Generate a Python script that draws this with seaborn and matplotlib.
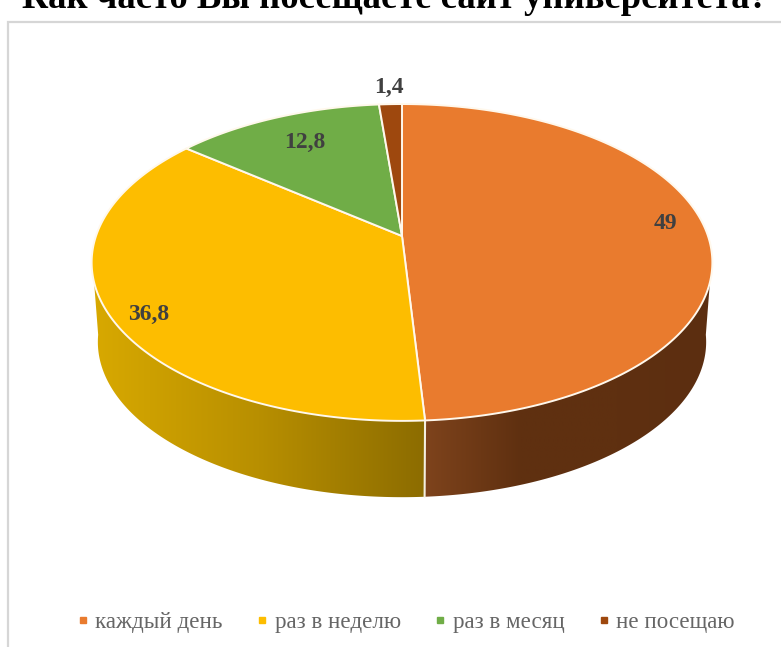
import numpy as np
import matplotlib
matplotlib.use("Agg")
import matplotlib.pyplot as plt
from matplotlib.colors import LinearSegmentedColormap
from matplotlib.lines import Line2D
from matplotlib.patches import Polygon, Rectangle
import seaborn as sns

title = "Как часто Вы посещаете сайт университета?"
categories = ["каждый день", "раз в неделю", "раз в месяц", "не посещаю"]
values = [49.0, 36.8, 12.8, 1.4]
value_labels = ["49", "36,8", "12,8", "1,4"]
colors = ["#E97B2E", "#FDBD00", "#70AD47", "#9E480E"]
wall_stops = [["#7E431C", "#5F3010", "#5F3010", "#5C2E10"],
              ["#D8A900", "#B88F00", "#8C6C00"]]

label_radius = [0.865, 0.87, 0.75, 1.15]
label_shift = [-8, 12, -2, 0]

sns.set_theme(style="white")
plt.rcParams["font.family"] = ["Liberation Serif", "DejaVu Serif"]

CX, CY = 402.0, 236.0
A, B, K = 306.0, 154.0, 0.167
DEPTH, SHRINK = 80.0, 0.98


def project(theta, r=1.0, scale=1.0, drop=0.0):
    X, Y = r * np.sin(theta), r * np.cos(theta)
    w = 1 + K * Y
    return CX + scale * A * X / w, CY - scale * B * Y / w + drop


fig = plt.figure(figsize=(7.81, 6.47), dpi=100)
ax = fig.add_axes([0, 0, 1, 1])
ax.set_xlim(0, 781)
ax.set_ylim(647, 0)
ax.axis("off")

ax.add_patch(Rectangle((7.5, 21.5), 800, 700, fc="white", ec="#D6D6D6", lw=1.6))
ax.text(395, 7.5, title, ha="center", va="baseline", fontsize=26.4,
        fontweight="bold", color="black", clip_on=False)

edges = 2 * np.pi * np.cumsum([0] + values) / sum(values)
lim0, lim1 = np.radians(97), np.radians(263)

# side wall: only the first two slices face the viewer
for i in range(2):
    a0, a1 = max(edges[i], lim0), min(edges[i + 1], lim1)
    t = np.linspace(a0, a1, 200)
    xt, yt = project(t)
    xb, yb = project(t[::-1], scale=SHRINK, drop=DEPTH)
    poly = Polygon(np.c_[np.r_[xt, xb], np.r_[yt, yb]], closed=True, fc="none", ec="none")
    ax.add_patch(poly)
    x0, x1 = min(xt.min(), xb.min()), max(xt.max(), xb.max())
    cmap = LinearSegmentedColormap.from_list("w", wall_stops[i])
    im = ax.imshow(np.linspace(0, 1, 256)[None, :], cmap=cmap, aspect="auto",
                   extent=(x0, x1, 520, 200), zorder=2)
    im.set_clip_path(poly)

# white seam where the slices meet on the wall
xa, ya = project(edges[1])
xb2, yb2 = project(edges[1], scale=SHRINK, drop=DEPTH)
ax.plot([xa, xb2], [ya, yb2], color="#F4EFE0", lw=1.5, zorder=3)
ax.set_xlim(0, 781)
ax.set_ylim(647, 0)

# top face
for i, c in enumerate(colors):
    t = np.linspace(edges[i], edges[i + 1], 300)
    x, y = project(t)
    ax.add_patch(Polygon(np.c_[np.r_[CX, x], np.r_[CY, y]], closed=True, fc=c,
                         ec="#FFF8EC", lw=1.4, joinstyle="round", zorder=4))

# value labels
for i, lab in enumerate(value_labels):
    m = (edges[i] + edges[i + 1]) / 2
    x, y = project(m, r=label_radius[i])
    ax.text(x, y + label_shift[i], lab, ha="center", va="center", fontsize=17,
            fontweight="bold", color="#404040", zorder=5)

handles = [Line2D([], [], ls="none", marker="s", ms=5, color=c) for c in colors]
ax.legend(handles, categories, loc="center", bbox_to_anchor=(403, 622),
          bbox_transform=ax.transData, ncol=4, frameon=False, fontsize=16.6,
          labelcolor="#666666", handletextpad=0.05, columnspacing=1.2,
          handlelength=1.0, borderpad=0)

fig.savefig("out.png", dpi=100)
